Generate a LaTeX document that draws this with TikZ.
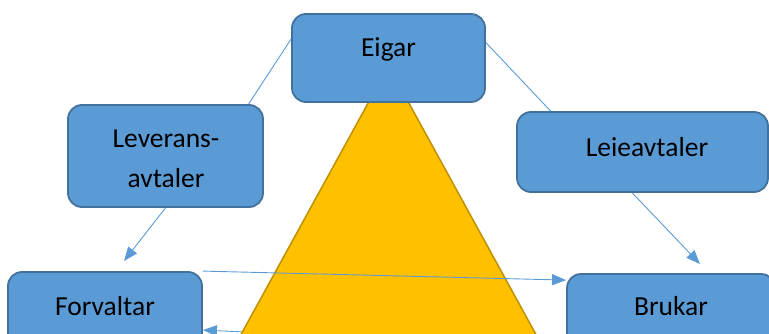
\documentclass[tikz,border=0pt]{standalone}
\usepackage{fontspec}
\setmainfont{Carlito}
\usetikzlibrary{arrows.meta,calc}
\pgfdeclarelayer{back}
\pgfdeclarelayer{mid}
\pgfsetlayers{back,mid,main}
\definecolor{boxfill}{HTML}{5B9BD5}
\definecolor{boxline}{HTML}{41719C}
\definecolor{gold}{HTML}{FFC000}
\definecolor{goldline}{HTML}{BF9000}
\begin{document}
\begin{tikzpicture}[x=1pt,y=-1pt,
 box/.style={draw=boxline,fill=boxfill,line width=1.8pt,rounded corners=14pt,inner sep=0pt},
 lbl/.style={anchor=base,inner sep=0pt,font=\fontsize{27.5}{33}\selectfont},
 conn/.style={draw=boxfill,line width=0.9pt},
 arr/.style={conn,-{Triangle[length=14pt,width=11pt]}}]
\useasboundingbox (0,0) rectangle (769,334);
\clip (0,0) rectangle (769,334);
\node[box,minimum width=193pt,minimum height=88pt] (eigar) at (388.5,58) {};
\node[box,minimum width=195pt,minimum height=102pt] (lev) at (165.5,156) {};
\node[box,minimum width=251pt,minimum height=80pt] (leie) at (642.5,152) {};
\node[box,minimum width=194pt,minimum height=80pt] (forv) at (105,312) {};
\node[box,minimum width=208pt,minimum height=80pt] (brukar) at (671,314) {};
\node[lbl] (teigar) at (388.5,57) {Eigar};
\node[lbl] (tlev1) at (166,148) {Leverans-};
\node[lbl] (tlev2) at (166,188) {avtaler};
\node[lbl] (tleie) at (647,157) {Leieavtaler};
\node[lbl] (tforv) at (105,315) {Forvaltar};
\node[lbl] (tbrukar) at (671,315) {Brukar};
\begin{pgfonlayer}{mid}
\draw[fill=gold,draw=goldline,line width=1.5pt] (388.5,66) -- (550,360) -- (227,360) -- cycle;
\end{pgfonlayer}
\begin{pgfonlayer}{back}
\draw[arr] ([yshift=-73pt]brukar.north west) -- ([yshift=-59pt]forv.north east);
\end{pgfonlayer}
\draw[conn] (eigar.169.3) -- (lev.32.8);
\draw[conn] (eigar.9.4) -- (leie.156);
\coordinate (tipL) at (124,261);
\coordinate (tipR) at (700,264);
\draw[arr] (lev.south) -- (tipL);
\draw[arr] (leie.-104.7) -- (tipR);
\draw[arr] (forv.north east) -- ([yshift=-7pt]brukar.north west);
\end{tikzpicture}
\end{document}
